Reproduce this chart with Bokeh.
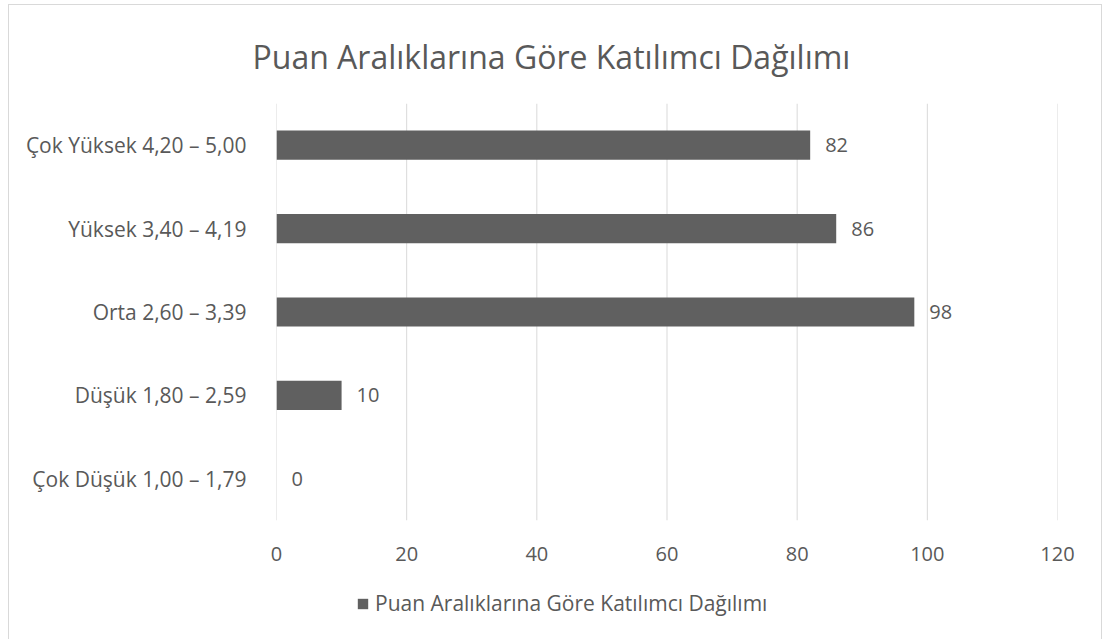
from bokeh.plotting import figure
from bokeh.layouts import column
from bokeh.models import ColumnDataSource, Legend, LegendItem, FixedTicker, Range1d, Span
from bokeh.core.properties import value
from bokeh.embed import file_html
from bokeh.resources import INLINE

categories = ["Çok Düşük 1,00 – 1,79", "Düşük 1,80 – 2,59", "Orta 2,60 – 3,39",
              "Yüksek 3,40 – 4,19", "Çok Yüksek 4,20 – 5,00"]
counts = [0, 10, 98, 86, 82]
series_name = "Puan Aralıklarına Göre Katılımcı Dağılımı"
title_text = "Puan Aralıklarına Göre Katılımcı Dağılımı"
x_ticks = [0, 20, 40, 60, 80, 100, 120]

FONT = "Open Sans"
TXT = "#595959"
BAR = "#606060"
FS = "20px"

src = ColumnDataSource(dict(cat=categories, val=counts, lab=[str(v) for v in counts]))

p = figure(y_range=categories, x_range=Range1d(0, 120), width=1092, height=574,
           output_backend="svg", toolbar_location=None,
           min_border_left=267, min_border_right=44, min_border_top=98, min_border_bottom=59)
p.outline_line_color = None

for t in x_ticks:
    p.add_layout(Span(location=t, dimension="height", line_color="#d9d9d9",
                      line_width=1, level="underlay"))

r = p.hbar(y="cat", right="val", height=0.35, source=src, color=BAR, line_color=None)
p.text(x="val", y="cat", text="lab", source=src, x_offset=15, text_align="left",
       text_baseline="middle", text_font=value(FONT), text_font_size=FS, text_color=TXT)

p.title.text = title_text
p.title.align = "left"
p.title.text_font = FONT
p.title.text_font_size = "32px"
p.title.text_font_style = "normal"
p.title.text_color = TXT
p.title.offset = -24
p.title.standoff = 52

p.xaxis.ticker = FixedTicker(ticks=x_ticks)
p.xaxis.axis_line_color = None
p.xaxis.major_tick_line_color = None
p.xaxis.minor_tick_line_color = None
p.xaxis.major_label_text_font = FONT
p.xaxis.major_label_text_font_size = FS
p.xaxis.major_label_text_color = TXT
p.xaxis.major_label_standoff = 20

p.yaxis.axis_line_color = None
p.yaxis.major_tick_line_color = None
p.yaxis.major_label_text_font = FONT
p.yaxis.major_label_text_font_size = "21px"
p.yaxis.major_label_text_color = TXT
p.yaxis.major_label_standoff = 24

p.ygrid.grid_line_color = None
p.xgrid.grid_line_color = None

# legend strip below the chart (its frame is aligned with the chart frame by the column)
lf = figure(width=1092, height=60, output_backend="svg", toolbar_location=None,
            x_range=Range1d(0, 1), y_range=Range1d(0, 1), min_border=0)
lf.axis.visible = False
lf.grid.visible = False
lf.outline_line_color = None
# legend swatch renderer kept outside the visible range
dummy = lf.quad(left=[5], right=[6], bottom=[5], top=[6], color=BAR, line_color=None)
legend = Legend(items=[LegendItem(label=series_name, renderers=[dummy])],
                orientation="horizontal", location=(80, 22),
                label_text_font=FONT, label_text_font_size="21px", label_text_color=TXT,
                glyph_width=13, glyph_height=13, border_line_color=None,
                background_fill_alpha=0, label_standoff=6, margin=0, padding=0)
lf.add_layout(legend)

layout = column(p, lf, spacing=0,
                styles={"border": "1px solid #d9d9d9", "margin-left": "8px", "margin-top": "4px"})

open("out.html", "w").write(file_html(layout, INLINE))
